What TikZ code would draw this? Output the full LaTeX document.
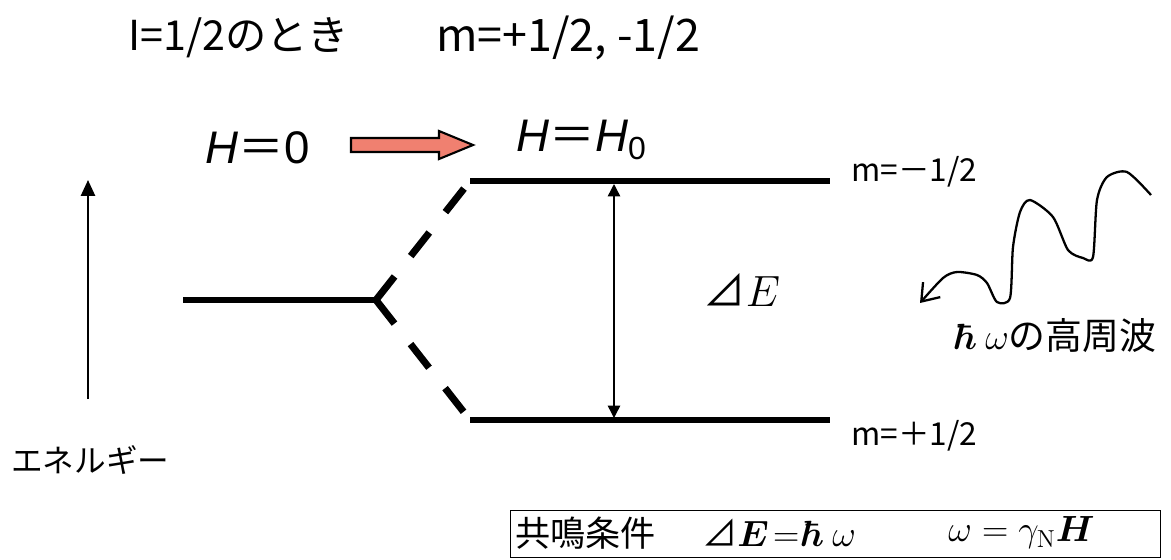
\documentclass[tikz,border=0pt]{standalone}
\usepackage{amsmath}
\usepackage{fontspec}
\setsansfont{Liberation Sans}
\newfontfamily\jpfont{Noto Sans CJK JP}
\usetikzlibrary{calc}
\usetikzlibrary{arrows.meta}
\definecolor{arrowred}{RGB}{240,128,112}

\begin{document}
\begin{tikzpicture}[x=0.02cm, y=-0.02cm,
    level/.style={line width=3.4pt},
    split/.style={line width=4pt, dash pattern=on 0.6cm off 0.52cm},
    jp/.style={font=\jpfont\fontsize{#1}{#1}\selectfont, inner sep=0pt},
    sf/.style={font=\sffamily\fontsize{#1}{#1}\selectfont, inner sep=0pt}]
\useasboundingbox (0,0) rectangle (1171,559);

% levels
\coordinate (L0a) at (183,300);
\coordinate (L0b) at (376,300);
\coordinate (Upa) at (470,181);
\coordinate (Upb) at (830,181);
\coordinate (Dna) at (470,420);
\coordinate (Dnb) at (830,420);

\draw[level] (L0a) -- (L0b);
\draw[level] (Upa) -- (Upb);
\draw[level] (Dna) -- (Dnb);
\draw[split] (L0b) -- (Upa);
\draw[split] (L0b) -- (Dna);

% energy gap
\coordinate (gapT) at (614,184);
\coordinate (gapB) at (614,418);
\draw[line width=0.8pt, {Triangle[length=7pt,width=7pt]}-{Triangle[length=7pt,width=7pt]}] (gapT) -- (gapB);
\node[font=\jpfont\fontsize{24}{24}\selectfont, inner sep=0pt] (dE) at (742,290) {⊿$E$};

% energy axis
\coordinate (enB) at (88,399);
\coordinate (enT) at (88,180);
\draw[line width=1.2pt, -{Triangle[length=9pt,width=8pt]}] (enB) -- (enT);
\node[jp=18, anchor=west] (energy) at (11,460) {エネルギー};

% titles
\node[jp=23.5, anchor=west] (title) at (128,38) {I=1/2のとき};
\node[jp=25.5, anchor=west] (mvals) at (436,38) {m=+1/2, -1/2};

% field
\node[sf=26, anchor=west] (Hzero) at (205,148) {\textit{H}{\jpfont ＝}0};
\node[sf=26, anchor=west] (Hset) at (516,140) {\textit{H}{\jpfont ＝}\textit{H}\textsubscript{0}};
\coordinate (ar) at (351,145);
\draw[line width=1.2pt, fill=arrowred]
    ($(ar)+(0,-7)$) -- ($(ar)+(88,-7)$) -- ($(ar)+(88,-14)$) -- ($(ar)+(122,0)$)
    -- ($(ar)+(88,14)$) -- ($(ar)+(88,7)$) -- ($(ar)+(0,7)$) -- cycle;

% m labels
\node[jp=18, anchor=west] (mUp) at (851,172) {m=－1/2};
\node[jp=18, anchor=west] (mDn) at (851,436) {m=＋1/2};

% radio wave
\draw[line width=1.3pt, line join=round, -{Straight Barb[length=9pt,width=13pt]}]
    plot[smooth, tension=0.45] coordinates {(1151,195) (1127,172) (1107,177) (1097,200)
    (1093,257) (1083,258) (1068,250) (1053,217) (1030,200) (1020,212) (1013,247)
    (1010,298) (997,302) (987,283) (977,275) (957,272) (943,278) (920,303)};
\node[font=\jpfont\fontsize{21}{21}\selectfont, inner sep=0pt, anchor=west] (wave) at (955,336)
    {$\boldsymbol{\hbar}\mkern4mu\omega$の高周波};

% resonance condition
\node[draw, line width=0.6pt, minimum width=13cm, minimum height=0.94cm, anchor=north west] (box) at (510,510) {};
\node[jp=20, anchor=west] (cond) at (515,533) {共鳴条件};
\node[font=\jpfont\fontsize{20}{20}\selectfont, inner sep=0pt, anchor=west] (res) at (702,533)
    {⊿$\boldsymbol{E}\mkern2mu{=}\mkern2mu\boldsymbol{\hbar}\mkern4mu\omega$};
\node[font=\fontsize{20}{20}\selectfont, inner sep=0pt, anchor=west] (larmor) at (948,533)
    {$\omega=\gamma_{\mathrm{N}}\boldsymbol{H}$};
\end{tikzpicture}
\end{document}
